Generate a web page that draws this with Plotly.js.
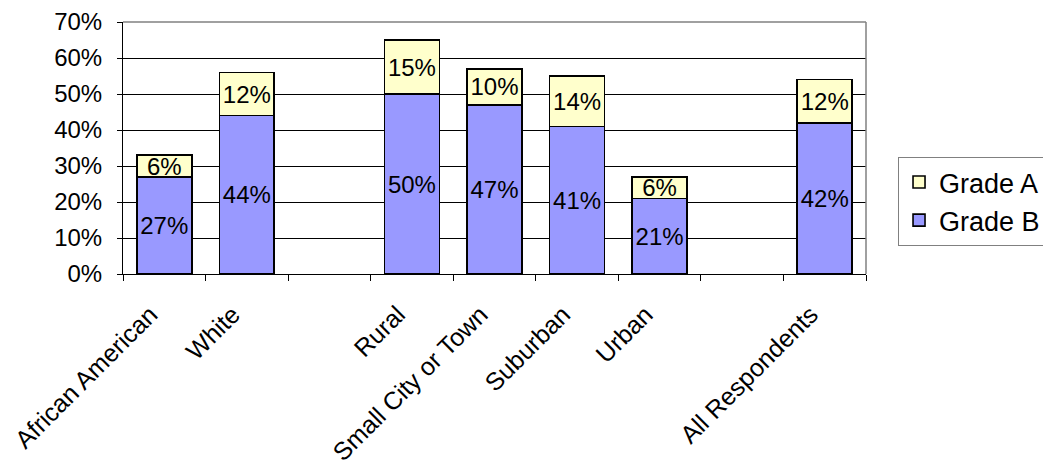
<!DOCTYPE html>
<html>
<head>
<meta charset="utf-8">
<script src="https://cdn.plot.ly/plotly-3.0.1.min.js"></script>
<style>html,body{margin:0;padding:0;background:#fff;}#chart{width:1043px;height:470px;}</style>
</head>
<body>
<div id="chart"></div>
<script>
// Category slots (blank slots are gaps between groups)
const categories = ["African American", "White", " ", "Rural", "Small City or Town", "Suburban", "Urban", "  ", "All Respondents"];
const gradeB = [27, 44, null, 50, 47, 41, 21, null, 42];
const gradeA = [6, 12, null, 15, 10, 14, 6, null, 12];
const yTickVals = [0, 10, 20, 30, 40, 50, 60, 70];
const yTickText = ["0%", "10%", "20%", "30%", "40%", "50%", "60%", "70%"];

const fontFam = "Arial, 'Liberation Sans', sans-serif";
const lbl = v => v == null ? "" : v + "%";

const traces = [
  {
    type: "bar", name: "Grade B", x: categories, y: gradeB,
    text: gradeB.map(lbl), textposition: "inside", insidetextanchor: "middle",
    textangle: 0, constraintext: "none",
    textfont: {family: fontFam, size: 24, color: "#000"},
    marker: {color: "#9999FF", line: {color: "#000", width: 1.6}},
    legendgroup: "b", hoverinfo: "skip"
  },
  {
    type: "bar", name: "Grade A", x: categories, y: gradeA,
    text: gradeA.map(lbl), textposition: "inside", insidetextanchor: "middle",
    textangle: 0, constraintext: "none",
    textfont: {family: fontFam, size: 24, color: "#000"},
    marker: {color: "#FFFFCC", line: {color: "#000", width: 1.6}},
    legendgroup: "a", hoverinfo: "skip"
  }
];

const layout = {
  width: 1043, height: 470,
  margin: {l: 123, r: 177, t: 22, b: 196, pad: 0},
  paper_bgcolor: "#fff", plot_bgcolor: "#fff",
  barmode: "stack", bargap: 0.335,
  font: {family: fontFam, size: 24, color: "#000"},
  showlegend: true,
  legend: {
    xref: "container", yref: "container",
    x: 0.861, xanchor: "left", y: 0.666, yanchor: "top",
    traceorder: "reversed", tracegroupgap: 6,
    bordercolor: "#808080", borderwidth: 1, bgcolor: "#fff",
    font: {family: fontFam, size: 27, color: "#000"}
  },
  xaxis: {
    type: "category", categoryorder: "array", categoryarray: categories,
    tickson: "boundaries", ticks: "outside", ticklen: 6, tickwidth: 1, tickcolor: "#000",
    tickangle: -45, showline: true, linecolor: "#000", linewidth: 1,
    ticklabelstandoff: 15, ticklabelshift: -14,
    showgrid: false, zeroline: false, fixedrange: true, automargin: false,
    tickfont: {family: fontFam, size: 25, color: "#000"}
  },
  yaxis: {
    range: [0, 70], tickvals: yTickVals, ticktext: yTickText,
    ticks: "outside", ticklen: 5, tickwidth: 1, tickcolor: "#000",
    showline: true, linecolor: "#000", linewidth: 1,
    ticklabelstandoff: 10, automargin: false,
    showgrid: true, gridcolor: "#000", gridwidth: 1, zeroline: false, fixedrange: true,
    tickfont: {family: fontFam, size: 24, color: "#000"}
  },
  shapes: [
    {type: "line", xref: "paper", yref: "paper", x0: 0, x1: 1, y0: 1, y1: 1, line: {color: "#808080", width: 1.5}, layer: "above"},
    {type: "line", xref: "paper", yref: "paper", x0: 1, x1: 1, y0: 0, y1: 1, line: {color: "#808080", width: 1.5}, layer: "above"}
  ]
};

Plotly.newPlot("chart", traces, layout, {displayModeBar: false, staticPlot: true});
</script>
</body>
</html>
